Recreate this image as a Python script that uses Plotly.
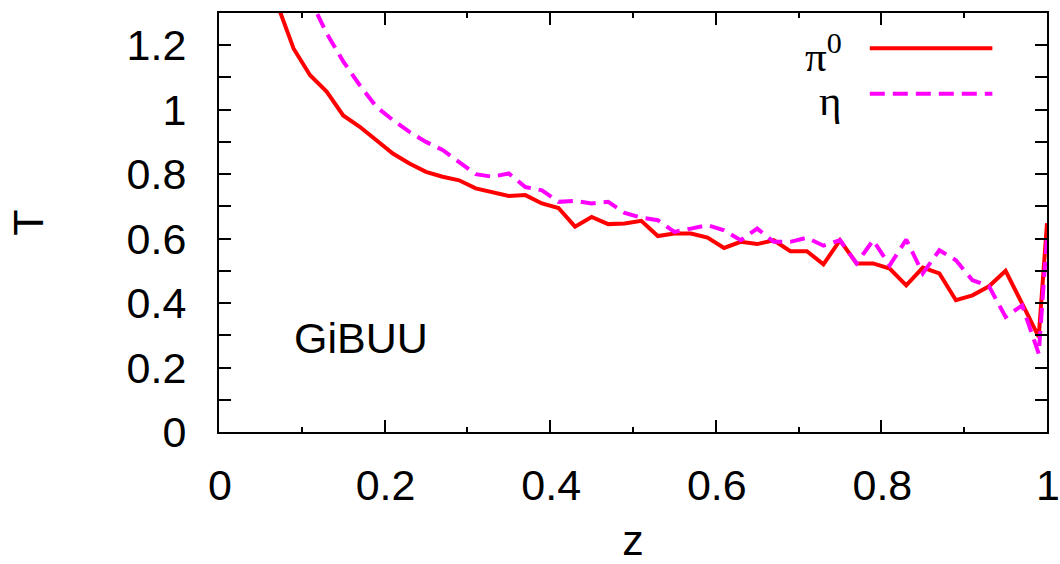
import plotly.graph_objects as go

# bin centres in z (width 0.02) plus the end point at z = 1
z = [0.01, 0.03, 0.05, 0.07, 0.09, 0.11, 0.13, 0.15, 0.17, 0.19,
     0.21, 0.23, 0.25, 0.27, 0.29, 0.31, 0.33, 0.35, 0.37, 0.39,
     0.41, 0.43, 0.45, 0.47, 0.49, 0.51, 0.53, 0.55, 0.57, 0.59,
     0.61, 0.63, 0.65, 0.67, 0.69, 0.71, 0.73, 0.75, 0.77, 0.79,
     0.81, 0.83, 0.85, 0.87, 0.89, 0.91, 0.93, 0.95, 0.97, 0.99, 1.0]

t_pi0 = [2.40, 1.85, 1.50, 1.33, 1.19, 1.107, 1.056, 0.982, 0.947, 0.906,
         0.864, 0.833, 0.807, 0.792, 0.781, 0.756, 0.745, 0.732, 0.735, 0.709,
         0.695, 0.637, 0.667, 0.645, 0.647, 0.655, 0.608, 0.616, 0.616, 0.603,
         0.571, 0.590, 0.583, 0.595, 0.561, 0.561, 0.520, 0.595, 0.523, 0.523,
         0.507, 0.455, 0.510, 0.492, 0.409, 0.424, 0.452, 0.500, 0.398, 0.295, 0.648]

t_eta = [2.90, 2.20, 1.80, 1.58, 1.45, 1.342, 1.237, 1.150, 1.076, 1.009,
         0.968, 0.931, 0.900, 0.875, 0.838, 0.800, 0.792, 0.802, 0.760, 0.750,
         0.714, 0.717, 0.709, 0.714, 0.680, 0.665, 0.657, 0.621, 0.631, 0.642,
         0.626, 0.595, 0.631, 0.590, 0.590, 0.603, 0.578, 0.595, 0.523, 0.595,
         0.517, 0.597, 0.492, 0.564, 0.533, 0.471, 0.452, 0.357, 0.393, 0.243, 0.605]

x_ticks = [0, 0.2, 0.4, 0.6, 0.8, 1]
x_tick_text = ["0", "0.2", "0.4", "0.6", "0.8", "1"]
y_ticks = [0, 0.2, 0.4, 0.6, 0.8, 1.0, 1.2]
y_tick_text = ["0", "0.2", "0.4", "0.6", "0.8", "1", "1.2"]

RED = "#ff0000"
MAGENTA = "#ff00ff"
SANS = "Liberation Sans, Arial, sans-serif"
SERIF = "Liberation Serif, Times New Roman, serif"
FS = 43

fig = go.Figure()
fig.add_trace(go.Scatter(x=z, y=t_pi0, mode="lines", name="π0",
                         line=dict(color=RED, width=4), showlegend=False))
fig.add_trace(go.Scatter(x=z, y=t_eta, mode="lines", name="η",
                         line=dict(color=MAGENTA, width=4, dash="15px,8px"),
                         showlegend=False))

axis_common = dict(
    showline=True, linecolor="black", linewidth=2, mirror="ticks",
    ticks="inside", ticklen=12, tickwidth=2, tickcolor="black",
    showgrid=False, zeroline=False, automargin=False,
    ticklabeloverflow="allow",
    tickfont=dict(family=SANS, size=FS, color="black"),
)

fig.update_xaxes(
    range=[0, 1], tickvals=x_ticks, ticktext=x_tick_text,
    minor=dict(dtick=0.1, ticks="inside", ticklen=5, tickwidth=2,
               tickcolor="black", showgrid=False),
    title=dict(text="z", font=dict(family=SANS, size=FS, color="black"),
               standoff=24),
    ticklabelstandoff=14, ticklabelshift=1,
    **axis_common,
)
fig.update_yaxes(
    range=[0, 1.3], tickvals=y_ticks, ticktext=y_tick_text,
    minor=dict(dtick=0.1, ticks="inside", ticklen=12, tickwidth=2,
               tickcolor="black", showgrid=False),
    title=dict(text="T", font=dict(family=SANS, size=FS, color="black"),
               standoff=70),
    ticklabelstandoff=22,
    **axis_common,
)

# key: labels on the left, line samples on the right
fig.add_shape(type="line", xref="paper", yref="paper",
              x0=0.786, x1=0.934, y0=0.916, y1=0.916,
              line=dict(color=RED, width=4))
fig.add_shape(type="line", xref="paper", yref="paper",
              x0=0.786, x1=0.934, y0=0.807, y1=0.807,
              line=dict(color=MAGENTA, width=4, dash="15px,8px"))
fig.add_annotation(xref="paper", yref="paper", x=0.755, y=0.905,
                   text="π<sup>0</sup>", showarrow=False,
                   xanchor="right", yanchor="middle",
                   font=dict(family=SERIF, size=FS, color="black"))
fig.add_annotation(xref="paper", yref="paper", x=0.755, y=0.790,
                   text="η", showarrow=False,
                   xanchor="right", yanchor="middle",
                   font=dict(family=SERIF, size=FS, color="black"))

fig.add_annotation(xref="paper", yref="paper", x=0.088, y=0.225,
                   text="GiBUU", showarrow=False,
                   xanchor="left", yanchor="middle",
                   font=dict(family=SANS, size=FS, color="black"))

fig.update_layout(
    width=1060, height=564,
    margin=dict(l=219, r=13, t=13, b=132),
    paper_bgcolor="white", plot_bgcolor="white",
)

fig.write_html("out.html")
